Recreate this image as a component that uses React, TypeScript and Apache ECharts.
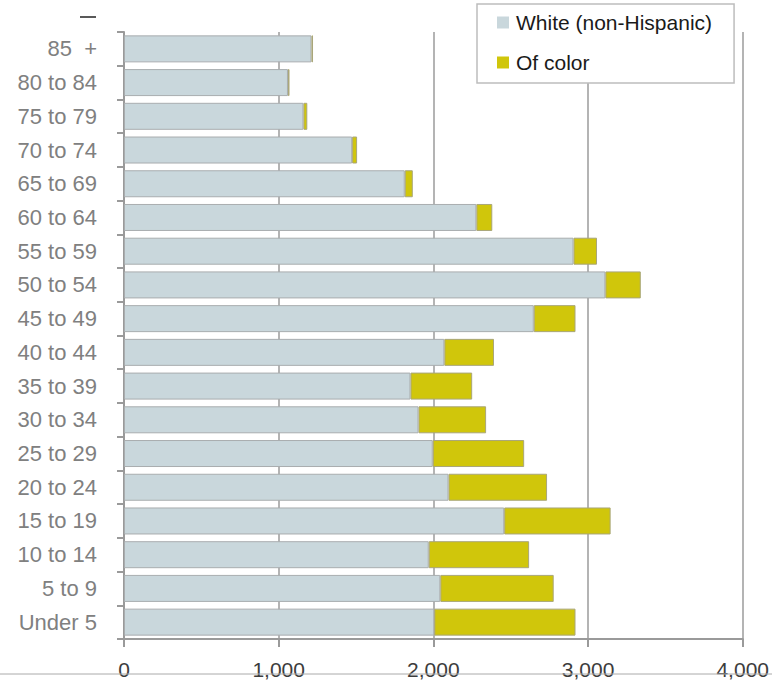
import React, { useEffect, useRef } from "react";
import * as echarts from "echarts";

const categories = [
  "Under 5", "5 to 9", "10 to 14", "15 to 19", "20 to 24", "25 to 29",
  "30 to 34", "35 to 39", "40 to 44", "45 to 49", "50 to 54", "55 to 59",
  "60 to 64", "65 to 69", "70 to 74", "75 to 79", "80 to 84", "85  +",
];
const whiteValues = [
  2006, 2045, 1970, 2458, 2098, 1996, 1904, 1852, 2071, 2649, 3112, 2906,
  2278, 1815, 1475, 1160, 1060, 1212,
];
const colorValues = [
  913, 733, 649, 688, 637, 591, 437, 399, 321, 270, 229, 152,
  103, 52, 32, 25, 10, 10,
];
const xTicks = [0, 1000, 2000, 3000, 4000];

export default function App() {
  const ref = useRef<HTMLDivElement>(null);
  useEffect(() => {
    if (!ref.current) return;
    const chart = echarts.init(ref.current, null, { renderer: "svg" });
    const font = "'Liberation Sans', Arial, sans-serif";
    chart.setOption({
      animation: false,
      grid: { left: 124, right: 24, top: 32, bottom: 46, containLabel: false },
      legend: {
        orient: "vertical",
        left: 477,
        top: 4,
        padding: [8, 22, 10, 20],
        itemGap: 19,
        itemWidth: 12,
        itemHeight: 12,
        icon: "rect",
        borderColor: "#bdbdbd",
        borderWidth: 1.5,
        backgroundColor: "#ffffff",
        z: 10,
        itemStyle: { borderWidth: 0 },
        textStyle: { fontFamily: font, fontSize: 21, color: "#1a1a1a", padding: [0, 0, 0, 2] },
        data: ["White (non-Hispanic)", "Of color"],
      },
      xAxis: {
        type: "value",
        min: 0,
        max: 4000,
        interval: 1000,
        axisLine: { show: true, lineStyle: { color: "#9a9a9a", width: 2 } },
        axisTick: { show: true, length: 8, lineStyle: { color: "#9a9a9a", width: 2 } },
        axisLabel: {
          margin: 20,
          fontFamily: font,
          fontSize: 21,
          color: "#3c3c3c",
          formatter: (v: number) => (xTicks.includes(v) ? v.toLocaleString("en-US") : ""),
        },
        splitLine: { show: true, lineStyle: { color: "#b4b4b4", width: 2 } },
      },
      yAxis: {
        type: "category",
        data: categories,
        axisLine: { show: true, lineStyle: { color: "#9a9a9a", width: 2 } },
        axisTick: { show: true, length: 7, alignWithLabel: false, lineStyle: { color: "#9a9a9a", width: 2 } },
        axisLabel: { margin: 27, fontFamily: font, fontSize: 22, color: "#808080" },
        splitLine: { show: false },
      },
      series: [
        {
          name: "White (non-Hispanic)",
          type: "bar",
          stack: "total",
          barWidth: 27,
          data: whiteValues,
          itemStyle: { color: "#c9d7dc", borderColor: "#a9adaf", borderWidth: 1 },
        },
        {
          name: "Of color",
          type: "bar",
          stack: "total",
          barWidth: 27,
          data: colorValues,
          itemStyle: { color: "#d0c60b", borderColor: "#a9a67a", borderWidth: 1 },
        },
      ],
      graphic: [
        { type: "line", shape: { x1: 80, y1: 17, x2: 96, y2: 17 }, style: { stroke: "#222", lineWidth: 1.5 } },
        { type: "line", shape: { x1: 0, y1: 674, x2: 772, y2: 674 }, style: { stroke: "#aaa", lineWidth: 1 }, z: 100 },
      ],
    });
    return () => chart.dispose();
  }, []);
  return (
    <div
      ref={ref}
      style={{ position: "fixed", left: 0, top: 0, width: 772, height: 685, background: "#fff" }}
    />
  );
}
